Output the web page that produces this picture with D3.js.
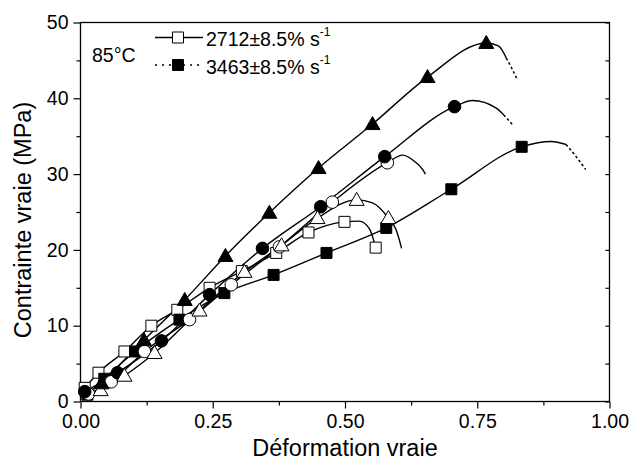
<!DOCTYPE html>
<html><head><meta charset="utf-8">
<script src="https://cdn.jsdelivr.net/npm/d3@7"></script>
<style>
body{margin:0;background:#fff}
svg{display:block}
text{font-family:"Liberation Sans",Arial,sans-serif;fill:#000}
</style>
</head><body>
<svg id="chart" width="630" height="461"></svg>
<script>
// ---------- data ----------
const xTicks = [0, 0.25, 0.5, 0.75, 1];
const xTickLabels = ["0.00", "0.25", "0.50", "0.75", "1.00"];
const xMinor = [0.125, 0.375, 0.625, 0.875];
const yTicks = [0, 10, 20, 30, 40, 50];
const yMinor = [5, 15, 25, 35, 45];

const legendLabels = ["2712\u00b18.5% s", "3463\u00b18.5% s"];
const legendSup = "-1";
const tempLabel = "85\u00b0C";

// open square
const sqOpen = [[0.008,1.8],[0.034,3.8],[0.083,6.6],[0.134,10.0],[0.183,12.1],[0.244,15.0],[0.305,17.2],[0.37,19.6],[0.431,22.3],[0.499,23.7],[0.558,20.3]];
const sqOpenCurve = [[0.527,23.8],[0.546,22.8]];
const sqOpenDots = [];
// filled square
const sqFill = [[0.013,0.9],[0.045,3.0],[0.103,6.6],[0.187,10.8],[0.272,14.3],[0.365,16.7],[0.465,19.6],[0.578,22.9],[0.701,28.0],[0.834,33.6]];
const sqFillCurve = [[0.89,34.3],[0.918,33.9]];
const sqFillDots = [[0.937,32.3],[0.955,30.6]];
// open circle
const ciOpen = [[0.015,1.0],[0.058,2.6],[0.121,6.6],[0.206,10.8],[0.285,15.4],[0.376,20.4],[0.476,26.3],[0.58,31.5]];
const ciOpenCurve = [[0.609,32.5],[0.631,31.7],[0.647,30.6],[0.652,30.0]];
const ciOpenDots = [];
// filled circle
const ciFill = [[0.008,1.3],[0.07,3.8],[0.153,8.0],[0.244,14.1],[0.344,20.2],[0.454,25.7],[0.575,32.3],[0.707,38.9]];
const ciFillCurve = [[0.741,39.7],[0.786,38.7],[0.80,37.8]];
const ciFillDots = [[0.808,37.2],[0.817,36.5]];
// open triangle
const trOpen = [[0.038,1.5],[0.083,3.4],[0.14,6.4],[0.225,12.0],[0.31,17.1],[0.38,20.6],[0.448,24.2],[0.522,26.6],[0.582,24.2]];
const trOpenCurve = [[0.552,26.2],[0.597,22.6],[0.607,20.2]];
const trOpenDots = [];
// filled triangle
const trFill = [[0.04,2.4],[0.12,8.1],[0.197,13.4],[0.274,19.2],[0.357,24.9],[0.45,30.8],[0.552,36.6],[0.656,42.8],[0.767,47.3]];
const trFillCurve = [[0.79,46.9],[0.805,45.3]];
const trFillDots = [[0.815,44.0],[0.826,42.4]];

// ---------- layout ----------
const svg = d3.select("#chart");
const X0 = 80.5, X1 = 609.5, Y0 = 401.5, Y1 = 22.5;
const x = d3.scaleLinear().domain([0, 1]).range([X0, X1]);
const y = d3.scaleLinear().domain([0, 50]).range([Y0, Y1]);

const series = [
  {pts: sqOpen, curve: sqOpenCurve, dots: sqOpenDots, shape: "square", fill: "#fff"},
  {pts: sqFill, curve: sqFillCurve, dots: sqFillDots, shape: "square", fill: "#000"},
  {pts: ciOpen, curve: ciOpenCurve, dots: ciOpenDots, shape: "circle", fill: "#fff"},
  {pts: ciFill, curve: ciFillCurve, dots: ciFillDots, shape: "circle", fill: "#000"},
  {pts: trOpen, curve: trOpenCurve, dots: trOpenDots, shape: "triangle", fill: "#fff"},
  {pts: trFill, curve: trFillCurve, dots: trFillDots, shape: "triangle", fill: "#000"}
];

function markerPath(shape) {
  if (shape === "square") return "M-5.5,-5.5H5.5V5.5H-5.5Z";
  if (shape === "circle") return d3.arc()({innerRadius:0, outerRadius:6.3, startAngle:0, endAngle:2*Math.PI});
  return "M0,-7.5L7.5,5.5L-7.5,5.5Z";
}

const line = d3.line().x(d => x(d[0])).y(d => y(d[1])).curve(d3.curveMonotoneX);

// axes
const gL = svg.append("g").attr("transform", `translate(${X0},0)`);
gL.call(d3.axisLeft(y).tickValues(yTicks).tickSize(7).tickPadding(5).tickFormat(d3.format("d")));
gL.append("g").call(d3.axisLeft(y).tickValues(yMinor).tickSize(4).tickFormat(""));
const gR = svg.append("g").attr("transform", `translate(${X1},0)`);
gR.call(d3.axisRight(y).tickValues(yTicks.concat(yMinor)).tickSize(-4).tickFormat(""));
const gB = svg.append("g").attr("transform", `translate(0,${Y0})`);
gB.call(d3.axisBottom(x).tickValues(xTicks).tickSize(7).tickPadding(6).tickFormat((d,i) => xTickLabels[i]));
gB.append("g").call(d3.axisBottom(x).tickValues(xMinor).tickSize(4).tickFormat(""));
svg.selectAll(".domain").remove();
svg.selectAll(".tick line").attr("stroke", "#000").attr("stroke-width", 1.2);
svg.selectAll(".tick text").style("font-size", "19.5px").attr("fill", "#000");

svg.append("rect").attr("x", X0).attr("y", Y1).attr("width", X1 - X0).attr("height", Y0 - Y1)
  .attr("fill", "none").attr("stroke", "#000").attr("stroke-width", 1.3);

// titles
svg.append("text").attr("x", (X0 + X1) / 2).attr("y", 456).attr("text-anchor", "middle")
  .style("font-size", "23.5px").text("D\u00e9formation vraie");
svg.append("text").attr("transform", "translate(31,220) rotate(-90)").attr("text-anchor", "middle")
  .style("font-size", "23.5px").text("Contrainte vraie (MPa)");

// series
const plot = svg.append("g");
series.forEach(s => {
  const all = s.pts.concat(s.curve).sort((a, b) => a[0] - b[0]);
  plot.append("path").attr("d", line(all)).attr("fill", "none").attr("stroke", "#000").attr("stroke-width", 1.4);
  if (s.dots.length) {
    const d = [all[all.length - 1]].concat(s.dots);
    plot.append("path").attr("d", line(d)).attr("fill", "none").attr("stroke", "#000")
      .attr("stroke-width", 1.5).attr("stroke-dasharray", "2.5,2.5");
  }
});
series.forEach(s => {
  plot.selectAll(null).data(s.pts).enter().append("path")
    .attr("transform", d => `translate(${x(d[0])},${y(d[1])})`)
    .attr("d", markerPath(s.shape)).attr("fill", s.fill).attr("stroke", "#000").attr("stroke-width", 1);
});

// legend
const lg = svg.append("g");
lg.append("text").attr("x", 92).attr("y", 62).style("font-size", "19.5px").text(tempLabel);
[0, 1].forEach(i => {
  const cy = i === 0 ? 37.5 : 65;
  lg.append("line").attr("x1", 155).attr("x2", 203).attr("y1", cy).attr("y2", cy)
    .attr("stroke", "#000").attr("stroke-width", 1.4)
    .attr("stroke-dasharray", i === 0 ? null : "2,5");
  lg.append("path").attr("transform", `translate(178,${cy})`).attr("d", markerPath("square"))
    .attr("fill", i === 0 ? "#fff" : "#000").attr("stroke", "#000").attr("stroke-width", 1);
  const t = lg.append("text").attr("x", 206).attr("y", cy + 8.5).style("font-size", "19.5px");
  t.append("tspan").text(legendLabels[i]);
  t.append("tspan").attr("dy", -10).style("font-size", "12px").text(legendSup);
});
</script>
</body></html>
